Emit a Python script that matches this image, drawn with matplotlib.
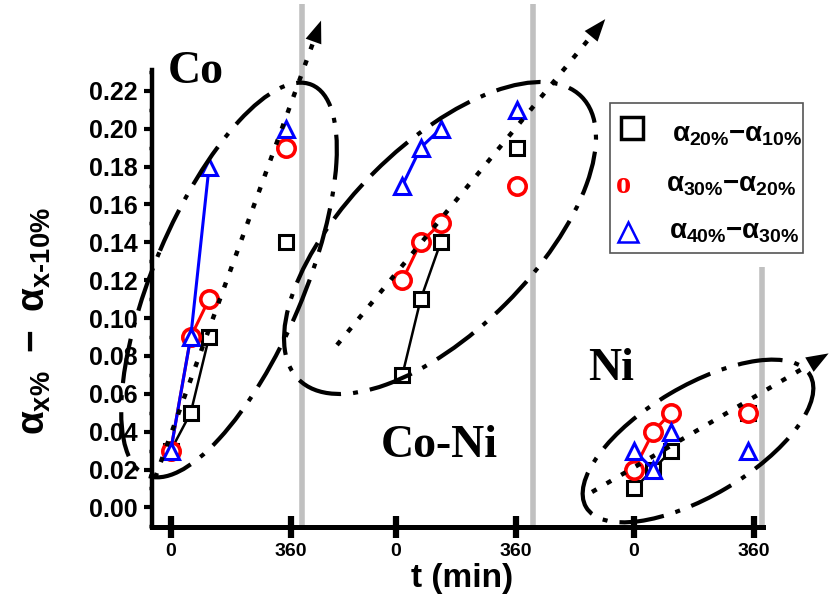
import numpy as np
import matplotlib
matplotlib.use('Agg')
import matplotlib.pyplot as plt
import matplotlib.transforms as mtransforms
from matplotlib.patches import Ellipse, Rectangle, FancyArrowPatch
from matplotlib.lines import Line2D
from matplotlib.ticker import MultipleLocator

plt.rcParams['font.family'] = 'Liberation Sans'
plt.rcParams['font.weight'] = 'bold'
plt.rcParams['mathtext.fontset'] = 'custom'
plt.rcParams['mathtext.rm'] = 'Liberation Sans:bold'
plt.rcParams['mathtext.it'] = 'Liberation Sans:bold'
plt.rcParams['mathtext.bf'] = 'Liberation Sans:bold'

# --- data -------------------------------------------------------------
groups = ['Co', 'Co-Ni', 'Ni']
group_offset = [0, 675, 1390]      # where each panel's t=0 sits on the shared axis
sep_x = [395, 1088, 1773]          # grey separators
sep_top = [0.266, 0.266, 0.127]

t_co = [0, 60, 115, 345]
t_coni = [20, 75, 135, 365]
t_ni = [0, 58, 111, 343]
times = [t_co, t_coni, t_ni]

d20_10 = [[0.03, 0.05, 0.09, 0.14], [0.07, 0.11, 0.14, 0.19], [0.01, 0.02, 0.03, 0.05]]
d30_20 = [[0.03, 0.09, 0.11, 0.19], [0.12, 0.14, 0.15, 0.17], [0.02, 0.04, 0.05, 0.05]]
d40_30 = [[0.03, 0.09, 0.18, 0.20], [0.17, 0.19, 0.20, 0.21], [0.03, 0.02, 0.04, 0.03]]

labels = [r'$\alpha_{20\%}{-}\alpha_{10\%}$',
          r'$\alpha_{30\%}{-}\alpha_{20\%}$',
          r'$\alpha_{40\%}{-}\alpha_{30\%}$']

series = [
    (d20_10, 'black', 's', 10.5, 2.2, 1.8),
    (d30_20, 'red', 'o', 12.5, 2.6, 2.2),
    (d40_30, 'blue', '^', 12, 2.2, 2.2),
]

# annotation shapes, image pixel units (x right, y down)
ell_center = [(229, 280), (440, 238), (698, 441)]
ell_size = [(424, 150), (400, 186), (260, 110)]
ell_angle = [67, 45, 30.6]
arrow_start = [(155, 478), (337, 345), (592, 492)]
arrow_tip = [(322, 18), (607, 17), (831, 352)]

fig = plt.figure(figsize=(8.31, 6.02), dpi=100)
ax = fig.add_axes([0.1826, 0.1251, 0.7356, 0.7586])
pix = mtransforms.Affine2D().scale(1 / 100, -1 / 100).translate(0, 6.02) + fig.dpi_scale_trans

ax.vlines(sep_x, -0.0102, sep_top, colors='#c0c0c0', lw=4, clip_on=False, zorder=0.5)

for k, (vals, col, mk, ms, mew, lw) in enumerate(series):
    for g in range(3):
        x = np.array(times[g]) + group_offset[g]
        v = vals[g]
        ax.plot(x[:3], v[:3], '-', color=col, lw=lw, zorder=2 + k)
        ax.plot(x, v, ls='none', marker=mk, ms=ms, mew=mew, mec=col, mfc='white',
                zorder=2.5 + k, clip_on=False)

ax.set_xlim(-57, 1777)
ax.set_ylim(-0.0102, 0.231)

ax.spines['top'].set_visible(False)
ax.spines['right'].set_visible(False)
ax.spines['left'].set_linewidth(3.2)
ax.spines['bottom'].set_linewidth(3.6)

xt = [off + t for off in group_offset for t in (0, 360)]
ax.set_xticks(xt)
ax.set_xticklabels(['0', '360'] * 3)
ax.xaxis.set_minor_locator(MultipleLocator(360 / 7))
ax.set_yticks(np.arange(0, 0.221, 0.02))
ax.set_yticklabels(['%.2f' % v for v in np.arange(0, 0.221, 0.02)])
ax.yaxis.set_minor_locator(MultipleLocator(0.01))
ax.tick_params(axis='x', which='major', direction='inout', length=16, width=4.5, pad=4, labelsize=14)
ax.tick_params(axis='x', which='minor', direction='out', length=2.5, width=1.2)
ax.tick_params(axis='y', which='major', direction='out', length=6, width=3, pad=4, labelsize=18)
ax.tick_params(axis='y', which='minor', direction='out', length=2.5, width=2.5)

ax.set_xlabel('t (min)', fontsize=24, fontweight='bold')
ax.xaxis.set_label_coords(0.5076, -0.08)
ax.set_ylabel(r'$\alpha_{x\%}\ -\ \alpha_{x\text{-}10\%}$', fontsize=28, va='center')
ax.yaxis.set_label_coords(-0.191, 0.45)

# group names
name_pos = [(196, 83), (439.5, 457), (611, 380)]
for name, (px_, py_) in zip(groups, name_pos):
    ax.text(px_, py_, name, transform=pix, ha='center', va='baseline',
            fontsize=33, fontweight='bold', family='Liberation Serif')

# dash-dot ellipses
for c, (w, h), a in zip(ell_center, ell_size, ell_angle):
    e = Ellipse(c, w, h, angle=-a, transform=pix, fill=False, lw=3, color='black',
                ls=(0, (10.8, 2.9, 1.2, 2.9)))
    fig.add_artist(e)

# dotted arrows
for (sx, sy), (tx, ty) in zip(arrow_start, arrow_tip):
    d = np.array([tx - sx, ty - sy], float)
    d /= np.hypot(*d)
    bx, by = tx - 20 * d[0], ty - 20 * d[1]
    fig.add_artist(Line2D([sx, bx], [sy, by], transform=pix, lw=3.2, color='black',
                          ls=(0, (1.2, 2.6))))
    fig.add_artist(FancyArrowPatch((bx - 2 * d[0], by - 2 * d[1]), (tx, ty), transform=pix,
                                   arrowstyle='-|>,head_length=0.8,head_width=0.3',
                                   mutation_scale=20, color='black', lw=0))

# legend
fig.add_artist(Rectangle((610, 103.3), 193.3, 149.4, transform=pix, fill=False,
                         ec='#555555', lw=1.2))
fig.add_artist(Line2D([631.7], [128.3], transform=pix, marker='s', ms=16, mew=2.5,
                      mec='black', mfc='none'))
fig.text(623.3, 193, 'o', transform=pix, ha='center', va='baseline', color='red',
         fontsize=22, fontweight='bold', family='Liberation Serif')
fig.add_artist(Line2D([628], [231.7], transform=pix, marker='^', ms=15, mew=1.8,
                      mec='blue', mfc='none'))
for lab, (lx, ly) in zip(labels, [(737, 141.7), (731, 191.7), (734, 238.3)]):
    fig.text(lx, ly, lab, transform=pix, ha='center', va='baseline', fontsize=20)

fig.savefig('out.png', dpi=100)
